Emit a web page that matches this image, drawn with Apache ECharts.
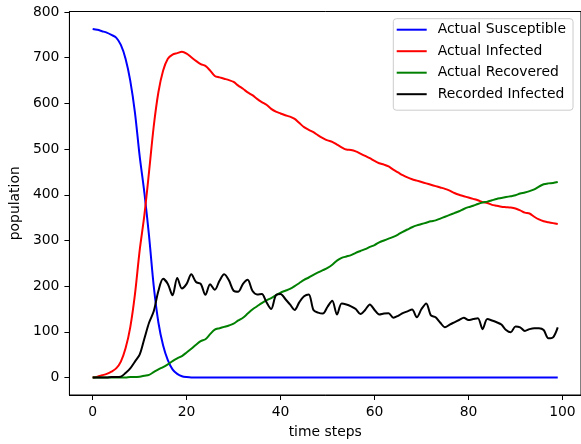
<!DOCTYPE html>
<html>
<head>
<meta charset="utf-8">
<script src="https://cdn.jsdelivr.net/npm/echarts@6/dist/echarts.min.js"></script>
<style>
html,body{margin:0;padding:0;background:#fff;}
#chart{width:581px;height:444px;}
</style>
</head>
<body>
<div id="chart"></div>
<script>
const timeSteps = [0,1,2,3,4,5,6,7,8,9,10,11,12,13,14,15,16,17,18,19,20,21,22,23,24,25,26,27,28,29,30,31,32,33,34,35,36,37,38,39,40,41,42,43,44,45,46,47,48,49,50,51,52,53,54,55,56,57,58,59,60,61,62,63,64,65,66,67,68,69,70,71,72,73,74,75,76,77,78,79,80,81,82,83,84,85,86,87,88,89,90,91,92,93,94,95,96,97,98,99];

const actualSusceptible = [763,761,758,755,750,744,728,698,650,580,485,405,310,200,120,70,38,18,8,3,1,0,0,0,0,0,0,0,0,0,0,0,0,0,0,0,0,0,0,0,0,0,0,0,0,0,0,0,0,0,0,0,0,0,0,0,0,0,0,0,0,0,0,0,0,0,0,0,0,0,0,0,0,0,0,0,0,0,0,0,0,0,0,0,0,0,0,0,0,0,0,0,0,0,0,0,0,0,0,0];

const actualInfected = [0,2,5,8,13,20,35,64,110,182,278,355,450,550,625,672,698,707,710,713,709,701,693,686,682,672,660,657,654,651,647,639,632,624,618,610,603,597,588,582,578,574,571,566,557,548,542,537,530,524,519,516,510,504,499,498,495,490,485,480,474,469,466,462,455,449,443,438,434,431,428,425,422,419,416,413,409,404,400,397,394,391,388,384,382,378,376,374,373,372,370,366,361,359,352,346,342,340,338,336];

const actualRecovered = [0,0,0,0,0,0,0,0,1,1,2,4,6,12,18,23,29,36,42,47,55,63,72,80,84,95,105,108,111,114,118,125,131,140,149,156,163,169,174,180,186,190,194,200,207,214,219,225,230,235,240,247,256,262,265,268,273,277,281,286,290,296,300,304,308,313,319,324,329,333,336,339,342,344,348,352,356,360,364,369,373,376,380,383,385,388,391,393,395,397,399,403,405,408,412,418,423,425,426,428];

const recordedInfected = [0,0,0,0,1,1,2,10,20,35,50,85,120,145,190,216,205,180,218,195,205,226,209,205,181,204,192,212,226,213,190,188,205,214,190,182,183,165,150,180,183,172,160,148,165,178,182,148,142,140,155,168,138,162,160,156,150,139,148,160,148,138,140,141,131,135,141,145,149,132,150,162,136,132,120,110,116,121,126,131,126,128,130,106,128,125,121,116,104,99,112,110,102,106,108,108,104,86,88,110];

const xTicks = [0,20,40,60,80,100];
const yTicks = [0,100,200,300,400,500,600,700,800];
const seriesNames = ['Actual Susceptible','Actual Infected','Actual Recovered','Recorded Infected'];
const seriesColors = ['#0000ff','#ff0000','#008000','#000000'];
const seriesValues = [actualSusceptible, actualInfected, actualRecovered, recordedInfected];

const FONT = 'DejaVu Sans';
const FS = 13.9;

const chart = echarts.init(document.getElementById('chart'), null, {renderer:'canvas'});
chart.setOption({
  animation: false,
  backgroundColor: '#ffffff',
  textStyle: {fontFamily: FONT},
  grid: {left: 67.7, top: 11.5, width: 519.4, height: 383.5, show: true, borderColor: '#000', borderWidth: 1, backgroundColor: 'transparent'},
  xAxis: {
    type: 'value', min: -4.95, max: 103.95,
    name: 'time steps', nameLocation: 'middle', nameGap: 30,
    nameTextStyle: {fontFamily: FONT, fontSize: FS, color: '#000'},
    axisLine: {show: true, onZero: false, lineStyle: {color: '#000', width: 1}},
    axisTick: {show: true, length: 5, lineStyle: {color: '#000', width: 1}, customValues: xTicks},
    axisLabel: {show: true, margin: 10, fontFamily: FONT, fontSize: FS, color: '#000', customValues: xTicks},
    splitLine: {show: false}
  },
  yAxis: {
    type: 'value', min: -38.15, max: 801.15,
    name: 'population', nameLocation: 'middle', nameGap: 42, nameRotate: 90,
    nameTextStyle: {fontFamily: FONT, fontSize: FS, color: '#000'},
    axisLine: {show: true, onZero: false, lineStyle: {color: '#000', width: 1}},
    axisTick: {show: true, length: 5, lineStyle: {color: '#000', width: 1}, customValues: yTicks},
    axisLabel: {show: true, margin: 10, fontFamily: FONT, fontSize: FS, color: '#000', customValues: yTicks},
    splitLine: {show: false}
  },
  legend: {
    orient: 'vertical', left: 393.3, top: 18.7,
    padding: [3, 7, 8, 3.4],
    itemWidth: 30, itemHeight: 2, itemGap: 5.5,
    icon: 'rect',
    backgroundColor: 'rgba(255,255,255,0.8)',
    borderColor: '#cccccc', borderWidth: 1, borderRadius: 3,
    textStyle: {fontFamily: FONT, fontSize: FS, color: '#000', lineHeight: 16, padding: [0,0,0,6]},
    data: seriesNames
  },
  series: seriesNames.map((n, i) => ({
    name: n,
    type: 'line',
    data: timeSteps.map((t, j) => [t, seriesValues[i][j]]),
    showSymbol: false,
    symbol: 'none',
    smooth: 0.3,
    color: seriesColors[i],
    lineStyle: {color: seriesColors[i], width: 2},
    z: 2 + i
  }))
});
</script>
</body>
</html>
